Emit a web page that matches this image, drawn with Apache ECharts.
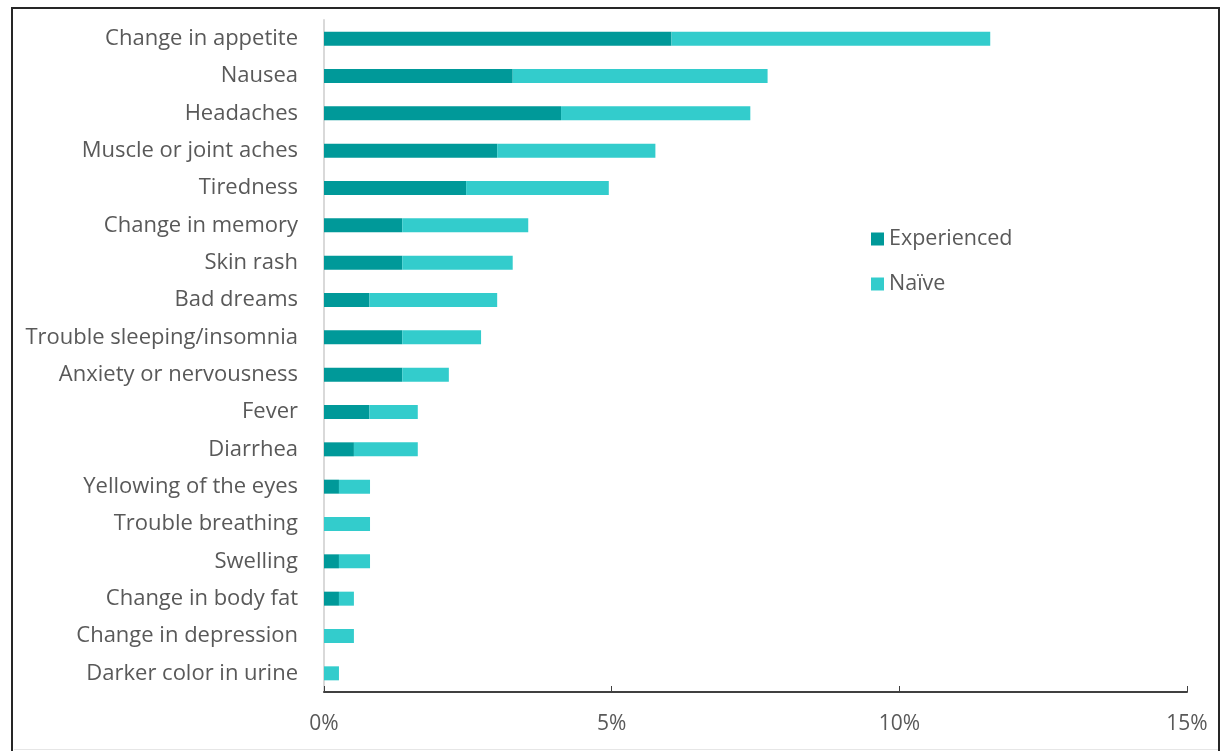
<!DOCTYPE html>
<html>
<head>
<meta charset="utf-8">
<script src="https://cdn.jsdelivr.net/npm/echarts@6/dist/echarts.min.js"></script>
<style>
  html, body { margin: 0; padding: 0; background: #ffffff; }
  #chart { width: 1225px; height: 751px; }
</style>
</head>
<body>
<div id="chart"></div>
<script>
var categories = [
  "Change in appetite", "Nausea", "Headaches", "Muscle or joint aches", "Tiredness",
  "Change in memory", "Skin rash", "Bad dreams", "Trouble sleeping/insomnia",
  "Anxiety or nervousness", "Fever", "Diarrhea", "Yellowing of the eyes",
  "Trouble breathing", "Swelling", "Change in body fat", "Change in depression",
  "Darker color in urine"
];
var experienced = [6.04, 3.28, 4.12, 3.01, 2.47, 1.36, 1.36, 0.79, 1.36, 1.36, 0.79, 0.52, 0.26, 0, 0.26, 0.26, 0, 0];
var naive = [5.54, 4.43, 3.29, 2.75, 2.48, 2.19, 1.92, 2.22, 1.37, 0.81, 0.84, 1.11, 0.54, 0.80, 0.54, 0.26, 0.52, 0.26];
var xTicks = [0, 5, 10, 15];

var FONT = "'Open Sans', 'Noto Sans', sans-serif";
var chart = echarts.init(document.getElementById('chart'), null, { renderer: 'canvas' });
chart.setOption({
  backgroundColor: '#ffffff',
  animation: false,
  textStyle: { fontFamily: FONT },
  graphic: [
    { type: 'rect', shape: { x: 12, y: 8, width: 1207, height: 760 },
      style: { fill: 'none', stroke: '#262626', lineWidth: 2 }, z: 100 },
    { type: 'line', shape: { x1: 14, y1: 749.5, x2: 1218, y2: 749.5 },
      style: { stroke: '#e6e6e6', lineWidth: 1 }, z: 100 }
  ],
  legend: {
    orient: 'vertical',
    left: 866,
    top: 223,
    itemWidth: 13,
    itemHeight: 13,
    itemGap: 23,
    icon: 'rect',
    textStyle: { fontFamily: FONT, fontSize: 21.5, color: '#595959' },
    data: ['Experienced', 'Naïve']
  },
  grid: { left: 324, right: 38, top: 20, bottom: 59, containLabel: false },
  xAxis: {
    type: 'value',
    min: xTicks[0],
    max: xTicks[xTicks.length - 1],
    interval: 5,
    axisLine: { show: true, lineStyle: { color: '#404040', width: 2 } },
    axisTick: { show: true, inside: true, length: 6, lineStyle: { color: '#404040', width: 1 } },
    splitLine: { show: false },
    axisLabel: { formatter: '{value}%', fontFamily: FONT, fontSize: 21, color: '#595959', margin: 22 }
  },
  yAxis: {
    type: 'category',
    inverse: true,
    data: categories,
    axisLine: { show: true, lineStyle: { color: '#d9d9d9', width: 2 } },
    axisTick: { show: false },
    axisLabel: { fontFamily: FONT, fontSize: 22, color: '#595959', margin: 26 }
  },
  series: [
    { name: 'Experienced', type: 'bar', stack: 'total', barWidth: 14, data: experienced,
      itemStyle: { color: '#009999' } },
    { name: 'Naïve', type: 'bar', stack: 'total', barWidth: 14, data: naive,
      itemStyle: { color: '#33CCCC' } }
  ]
});
</script>
</body>
</html>
